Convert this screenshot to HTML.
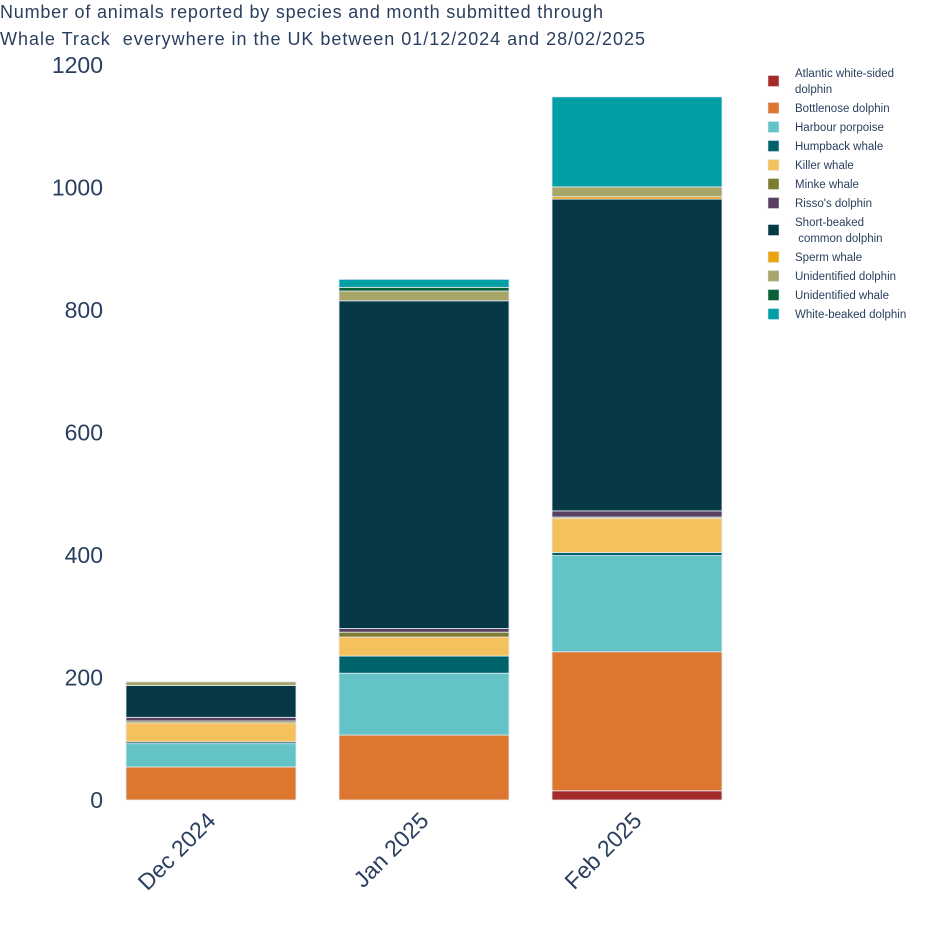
<!DOCTYPE html>
<html><head><meta charset="utf-8"><style>
html,body{margin:0;padding:0;background:#fff;}
svg{display:block;font-family:"Liberation Sans",sans-serif;}
</style></head><body>
<svg id="c" width="936" height="950">
<text x="0" y="18" font-size="18" fill="#2a3f5f" textLength="603" lengthAdjust="spacing">Number of animals reported by species and month submitted through</text>
<text x="0" y="45" font-size="18" fill="#2a3f5f" textLength="645" lengthAdjust="spacing" xml:space="preserve">Whale Track  everywhere in the UK between 01/12/2024 and 28/02/2025</text>
<g id="yaxis"></g>
<g id="bars"></g>
<g id="xaxis"></g>
<g id="legend"></g>
</svg>
<script>
const months = ["Dec 2024","Jan 2025","Feb 2025"];
const species = ["Atlantic white-sided dolphin","Bottlenose dolphin","Harbour porpoise","Humpback whale","Killer whale","Minke whale","Risso's dolphin","Short-beaked common dolphin","Sperm whale","Unidentified dolphin","Unidentified whale","White-beaked dolphin"];
const colors = ["#a52a2a","#dd772f","#64c3c6","#00636b","#f4c15c","#7f7c31","#5a4060","#063945","#eba40c","#a8a569","#0b5f35","#029ea5"];
const atlantic = [0,0,15];
const bottlenose = [54,106,227];
const harbour = [38,101,157];
const humpback = [3,28,5];
const killer = [31,31,56];
const minke = [3,8,2];
const risso = [6,6,10];
const shortBeaked = [52,535,509];
const sperm = [0,0,4];
const unidDolphin = [6,16,16];
const unidWhale = [0,6,0];
const whiteBeaked = [0,13,147];
const series = [atlantic,bottlenose,harbour,humpback,killer,minke,risso,shortBeaked,sperm,unidDolphin,unidWhale,whiteBeaked];
const yTicks = [0,200,400,600,800,1000,1200];

const NS="http://www.w3.org/2000/svg";
const y0=800, yTop=65, yMax=1200;
const yScale=v=>y0-(v/yMax)*(y0-yTop);
const xLeft=126, band=213, barW=170;
const xScale=i=>xLeft+i*band;
function mk(tag,attrs,parent){const e=document.createElementNS(NS,tag);for(const k in attrs)e.setAttribute(k,attrs[k]);parent.appendChild(e);return e;}

const ya=document.getElementById('yaxis');
yTicks.forEach(t=>{
  const tx=mk('text',{x:103,y:yScale(t)+8,'text-anchor':'end','font-size':23,fill:'#2a3f5f'},ya);
  
  
  tx.textContent=t;
});

const bg=document.getElementById('bars');
months.forEach((m,i)=>{
  let cum=0;
  series.forEach((s,j)=>{
    const v=s[i]; if(!v) return;
    const r=mk('rect',{x:xScale(i),y:yScale(cum+v),width:barW,height:yScale(cum)-yScale(cum+v),fill:colors[j],stroke:'#e5ecf6','stroke-width':0.8},bg);
    
    
    cum+=v;
  });
});

const xa=document.getElementById('xaxis');
months.forEach((m,i)=>{
  const cx=xScale(i)+barW/2+6, cy=822;
  const t=mk('text',{x:cx,y:cy,'text-anchor':'end','font-size':23,fill:'#2a3f5f',transform:`rotate(-45 ${cx} ${cy})`},xa);
  
  
  t.textContent=m;
});

const lg=document.getElementById('legend');
const lines=[["Atlantic white-sided","dolphin"],["Bottlenose dolphin"],["Harbour porpoise"],["Humpback whale"],["Killer whale"],["Minke whale"],["Risso's dolphin"],["Short-beaked"," common dolphin"],["Sperm whale"],["Unidentified dolphin"],["Unidentified whale"],["White-beaked dolphin"]];
const ys=[81,108,127,146,165,184,203,230,257,276,295,314];
lines.forEach((ln,j)=>{
  const g=mk('g',{},lg);
  
  
  mk('rect',{x:768,y:ys[j]-5.5,width:11,height:11,fill:colors[j],stroke:'#e5ecf6','stroke-width':0.5},g);
  const t=mk('text',{x:795,'font-size':11.5,fill:'#2a3f5f'},g);
  t.setAttribute('xml:space','preserve');
  ln.forEach((l,k)=>{
    const ts=mk('tspan',{x:795,y:ys[j]+4+(ln.length>1?(k===0?-8:8):0)},t);
    ts.textContent=l;
  });
});
</script>
</body></html>
